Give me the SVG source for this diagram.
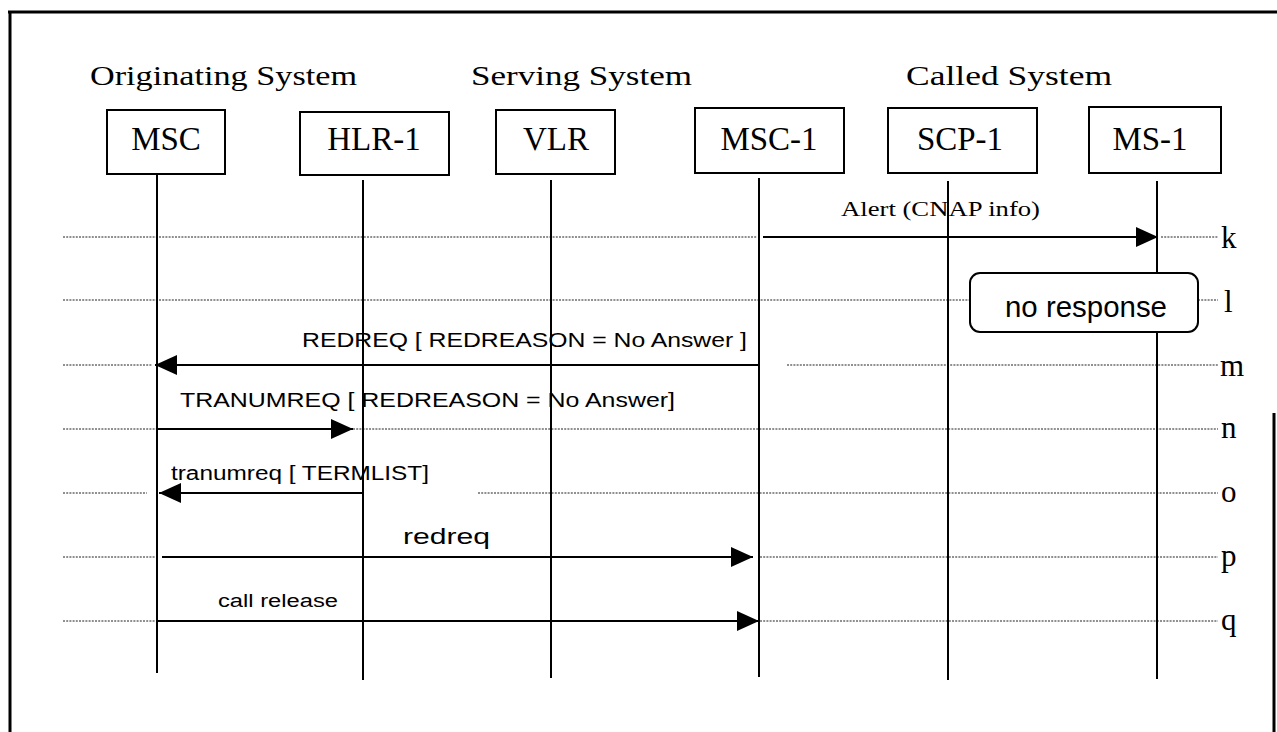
<svg xmlns="http://www.w3.org/2000/svg" width="1277" height="732" viewBox="0 0 1277 732">
<style>
.t{font-family:"Liberation Serif","Times New Roman",serif;fill:#000}
.s{font-family:"Liberation Sans",Arial,sans-serif;fill:#000}
.box{fill:#fff;stroke:#000;stroke-width:2}
.life{stroke:#000;stroke-width:2;fill:none}
.dot{stroke:#222;stroke-width:1.2;stroke-dasharray:2 1.2;fill:none}
.msg{stroke:#000;stroke-width:2.2;fill:none}
</style>
<defs>
<marker id="ah" viewBox="0 0 22 20" refX="22" refY="10" markerWidth="22" markerHeight="20" markerUnits="userSpaceOnUse" orient="auto">
<path d="M0,0 L22,10 L0,20 Z" fill="#000"/>
</marker>
</defs>
<rect width="1277" height="732" fill="#fff"/>
<g id="frame" stroke="#000" stroke-width="3" fill="none">
<path d="M8,12 H1277"/>
<path d="M10,12 V732"/>
<path d="M1274,413 V732"/>
</g>
<g id="titles" class="t" font-size="27">
<text x="90" y="85" textLength="267" lengthAdjust="spacingAndGlyphs">Originating System</text>
<text x="471" y="85" textLength="221" lengthAdjust="spacingAndGlyphs">Serving System</text>
<text x="906" y="85" textLength="206" lengthAdjust="spacingAndGlyphs">Called System</text>
</g>
<g id="rows" class="dot">
<path d="M63,237 H757 M1161,237 H1218"/>
<path d="M63,300 H970 M1198,300 H1218"/>
<path d="M63,365 H152 M787,365 H1218"/>
<path d="M63,429 H156 M353,429 H1218"/>
<path d="M63,493 H147 M478,493 H1218"/>
<path d="M63,557 H155 M760,557 H1218"/>
<path d="M63,621 H155 M760,621 H1218"/>
</g>
<g id="lifelines" class="life">
<path d="M157,174 V673"/>
<path d="M363,180 V680"/>
<path d="M551,180 V678"/>
<path d="M759,178 V677"/>
<path d="M948,181 V680"/>
<path d="M1157,181 V679"/>
</g>
<g id="node-MSC"><rect class="box" x="107" y="110" width="118" height="64"/><text class="t" x="166" y="150" font-size="33" text-anchor="middle">MSC</text></g>
<g id="node-HLR-1"><rect class="box" x="300" y="112" width="149" height="63"/><text class="t" x="374" y="150" font-size="33" text-anchor="middle">HLR-1</text></g>
<g id="node-VLR"><rect class="box" x="496" y="110" width="119" height="64"/><text class="t" x="556" y="150" font-size="33" text-anchor="middle">VLR</text></g>
<g id="node-MSC-1"><rect class="box" x="695" y="108" width="149" height="65"/><text class="t" x="769" y="150" font-size="33" text-anchor="middle">MSC-1</text></g>
<g id="node-SCP-1"><rect class="box" x="888" y="108" width="149" height="65"/><text class="t" x="960" y="150" font-size="33" text-anchor="middle">SCP-1</text></g>
<g id="node-MS-1"><rect class="box" x="1089" y="107" width="132" height="66"/><text class="t" x="1150" y="150" font-size="33" text-anchor="middle">MS-1</text></g>
<g id="node-noresponse"><rect class="box" x="970" y="273" width="228" height="59" rx="10" ry="10"/><text class="s" x="1005" y="317" font-size="29" textLength="162" lengthAdjust="spacingAndGlyphs">no response</text></g>
<g id="connectors">
<path class="msg" d="M763,237 H1158" marker-end="url(#ah)"/>
<path class="msg" d="M759,365 H155" marker-end="url(#ah)"/>
<path class="msg" d="M157,429 H353" marker-end="url(#ah)"/>
<path class="msg" d="M363,493 H159" marker-end="url(#ah)"/>
<path class="msg" d="M162,557 H753" marker-end="url(#ah)"/>
<path class="msg" d="M157,621 H759" marker-end="url(#ah)"/>
</g>
<g id="labels">
<text class="t" x="841" y="216" font-size="21" textLength="199" lengthAdjust="spacingAndGlyphs">Alert (CNAP info)</text>
<text class="s" x="302" y="347" font-size="21" textLength="445" lengthAdjust="spacingAndGlyphs">REDREQ [ REDREASON = No Answer ]</text>
<text class="s" x="180" y="407" font-size="21" textLength="495" lengthAdjust="spacingAndGlyphs">TRANUMREQ [ REDREASON = No Answer]</text>
<text class="s" x="171" y="480" font-size="20" textLength="258" lengthAdjust="spacingAndGlyphs">tranumreq [ TERMLIST]</text>
<text class="s" x="403" y="544" font-size="22" textLength="87" lengthAdjust="spacingAndGlyphs">redreq</text>
<text class="s" x="218" y="607" font-size="18" textLength="120" lengthAdjust="spacingAndGlyphs">call  release</text>
</g>
<g id="rowlabels" class="t" font-size="31">
<text x="1221" y="248">k</text>
<text x="1224" y="312">l</text>
<text x="1220" y="376">m</text>
<text x="1221" y="438">n</text>
<text x="1221" y="502">o</text>
<text x="1221" y="566">p</text>
<text x="1221" y="630">q</text>
</g>
</svg>
